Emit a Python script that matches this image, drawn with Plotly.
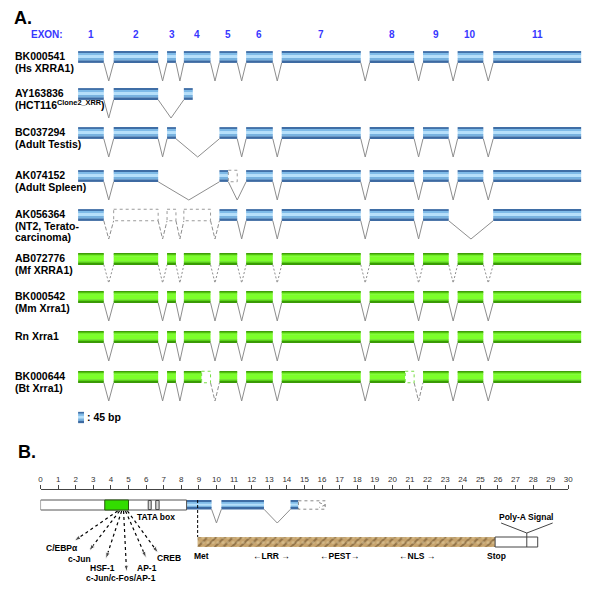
import plotly.graph_objects as go

# ---------------- Panel A data ----------------
EXON_NUMBERS = ['1', '2', '3', '4', '5', '6', '7', '8', '9', '10', '11']
EXON_START = [77, 113, 167, 184, 220, 247, 283, 372, 426, 461, 497]
EXON_END = [103, 158, 176, 211, 238, 274, 363, 417, 452, 487, 586]
ROW_Y = [57, 94, 133, 176, 215, 259, 297, 337, 377]
ROW_LABELS = [
    ["BK000541", "(Hs XRRA1)"],
    ["AY163836", "(HCT116<sup>Clone2_XRR</sup>)"],
    ["BC037294", "(Adult Testis)"],
    ["AK074152", "(Adult Spleen)"],
    ["AK056364", "(NT2, Terato-", "carcinoma)"],
    ["AB072776", "(Mf XRRA1)"],
    ["BK000542", "(Mm Xrra1)"],
    ["Rn Xrra1"],
    ["BK000644", "(Bt Xrra1)"],
]
ROW_COLOR = ['blue', 'blue', 'blue', 'blue', 'blue', 'green', 'green', 'green', 'green']

ALL = list(range(11))
def ex(i, solid=True):
    return (EXON_START[i], EXON_END[i], solid)

ROW_SEGMENTS = [
    [ex(i) for i in ALL],
    [ex(0), ex(1), (184, 193, True)],
    [ex(i) for i in [0, 1, 2, 4, 5, 6, 7, 8, 9, 10]],
    [ex(0), ex(1), (220, 229, True), (229, 238, False)] + [ex(i) for i in range(5, 11)],
    [ex(0), ex(1, False), ex(2, False), ex(3, False)] + [ex(i) for i in range(4, 9)] + [ex(10)],
    [ex(i) for i in ALL],
    [ex(i) for i in ALL],
    [ex(i) for i in ALL],
    [ex(0), ex(1), ex(2), (184, 202, True), (202, 211, False), ex(4), ex(5), ex(6),
     (372, 408, True), (408, 417, False), ex(8), ex(9), ex(10)],
]
STD_GAPS = [(EXON_END[i], EXON_START[i + 1]) for i in range(10)]
ROW_INTRONS = [
    [(a, b, 'solid') for a, b in STD_GAPS],
    [(103, 113, 'solid'), (158, 184, 'solid')],
    [(103, 113, 'solid'), (158, 167, 'solid'), (176, 220, 'solid')] + [(a, b, 'solid') for a, b in STD_GAPS[4:]],
    [(103, 113, 'solid'), (158, 220, 'solid'), (229, 247, 'solid')] + [(a, b, 'solid') for a, b in STD_GAPS[5:]],
    [(103, 113, 'dash'), (158, 167, 'dash'), (176, 184, 'dash'), (211, 220, 'dash'),
     (238, 247, 'solid'), (274, 283, 'solid'), (363, 372, 'solid'), (417, 426, 'solid'), (452, 497, 'solid')],
    [(a, b, 'dot') for a, b in STD_GAPS],
    [(a, b, 'solid') for a, b in STD_GAPS],
    [(a, b, 'solid') for a, b in STD_GAPS],
    [(a, b, ('dash' if a in (211, 417) else 'solid')) for a, b in STD_GAPS],
]
LEGEND_TEXT = ": 45 bp"

# ---------------- Panel B data (scale units) ----------------
SCALE_TICKS = list(range(0, 31))
PROMOTER = (0.0, 8.3)
PROMOTER_CORE = (3.65, 5.0)
SMALL_BOXES = [(6.12, 6.29), (6.55, 6.74)]
B_EXONS = [(8.3, 9.72), (10.28, 12.70), (14.21, 14.66)]
B_INTRONS = [(9.72, 10.28), (12.70, 14.21)]
B_PARTIAL = (14.66, 16.18)
MET, STOP, UTR_END, POLYA = 8.93, 25.84, 28.26, 27.64
ORF_LABELS = ["Met", "\u2190LRR \u2192", "\u2190PEST\u2192", "\u2190NLS \u2192", "Stop"]
ORF_LABEL_X = [9.13, 13.15, 17.0, 21.4, 25.9]
TF_LABELS = ["C/EBP\u03b1", "c-Jun", "HSF-1", "c-Jun/c-Fos/AP-1", "AP-1", "CREB"]
TF_FROM_X = [4.38, 4.49, 4.61, 4.72, 4.83, 4.94]
TF_TO_X = [1.91, 2.75, 3.71, 4.89, 6.01, 6.69]
TF_TO_Y = [541, 551, 559, 572, 558, 553]
TF_LABEL_X = [1.24, 2.19, 3.54, 4.55, 6.07, 7.30]
TF_LABEL_Y = [548, 559, 568, 578, 568, 558]

FONT = "Liberation Sans, Arial, sans-serif"
BLUE_STRIPES = [(0, .16, '#3f6ea6'), (.16, .36, '#7fbbe8'), (.36, .6, '#b6e0fb'), (.6, .82, '#78b2df'), (.82, 1, '#3d6aa2')]
GREEN_STRIPES = [(0, .13, '#3f9e08'), (.13, .3, '#6ff022'), (.3, .72, '#7cff2a'), (.72, .87, '#56d014'), (.87, 1, '#3a9a06')]
INTRON_COLOR = '#8e8e8e'

fig = go.Figure()
fig.add_trace(go.Scatter(x=[0, 600], y=[0, 601], mode='markers', marker=dict(size=1, opacity=0),
                         hoverinfo='skip'))

shapes = []
annotations = []


def txt(x, y, s, size=10, bold=True, color='black', xanchor='left', xref='x'):
    annotations.append(dict(x=x, y=y, xref=xref, yref='y', text=(f"<b>{s}</b>" if bold else s),
                            showarrow=False, xanchor=xanchor, yanchor='middle', borderpad=0,
                            font=dict(family=FONT, size=size, color=color)))


def striped(segs, h, stripes, xaxis='x'):
    for f0, f1, col in stripes:
        fig.add_trace(go.Bar(
            orientation='h', base=[s[0] for s in segs], x=[s[1] - s[0] for s in segs],
            y=[s[2] - h / 2 + (f0 + f1) / 2 * h for s in segs], width=[(f1 - f0) * h + 0.3] * len(segs),
            marker=dict(color=col, line=dict(width=0)), xaxis=xaxis, yaxis='y', hoverinfo='skip'))


H = 11.5
blue_segs, green_segs = [], []
intr = {}
for r, yc in enumerate(ROW_Y):
    col = ROW_COLOR[r]
    for x0, x1, solid in ROW_SEGMENTS[r]:
        if solid:
            (blue_segs if col == 'blue' else green_segs).append((x0, x1, yc))
        else:
            shapes.append(dict(type='rect', xref='x', yref='y', x0=x0, x1=x1, y0=yc - H / 2, y1=yc + H / 2,
                               fillcolor='white',
                               line=dict(color=('#9a9a9a' if col == 'blue' else '#77dd44'), width=1, dash='dot')))
    for x0, x1, d in ROW_INTRONS[r]:
        xs, ys = intr.setdefault(d, ([], []))
        xs += [x0, (x0 + x1) / 2, x1, None]
        ys += [yc + H / 2, yc + 24, yc + H / 2, None]

striped(blue_segs, H, BLUE_STRIPES)
striped(green_segs, H, GREEN_STRIPES)
for d, (xs, ys) in intr.items():
    dash = {'solid': 'solid', 'dash': '4px,2px', 'dot': '2px,2px'}[d]
    fig.add_trace(go.Scatter(x=xs, y=ys, mode='lines', line=dict(color=INTRON_COLOR, width=1, dash=dash),
                             hoverinfo='skip'))

striped([(77, 83, 417.5)], 11, BLUE_STRIPES)
txt(85, 417, LEGEND_TEXT, size=10.5)

txt(11, 18, "A.", size=18)
txt(15, 452, "B.", size=18)
txt(28, 34, "EXON:", size=10, color='#3737ff')
for i, n in enumerate(EXON_NUMBERS):
    txt((EXON_START[i] + EXON_END[i]) / 2, 34, n, size=10, color='#3737ff', xanchor='center')

for r, yc in enumerate(ROW_Y):
    for k, line in enumerate(ROW_LABELS[r]):
        txt(12, yc - 1 + 11.5 * k, line, size=10.5)

# ---------------- Panel B ----------------
BY = 505
shapes.append(dict(type='rect', xref='x2', yref='y', x0=PROMOTER[0], x1=PROMOTER[1], y0=BY - 5, y1=BY + 5,
                   fillcolor='white', line=dict(color='#555', width=1)))
shapes.append(dict(type='rect', xref='x2', yref='y', x0=PROMOTER_CORE[0], x1=PROMOTER_CORE[1], y0=BY - 5, y1=BY + 5,
                   fillcolor='#33dd00', line=dict(color='#2a5a10', width=1)))
for a, b in SMALL_BOXES:
    shapes.append(dict(type='rect', xref='x2', yref='y', x0=a, x1=b, y0=BY - 4.5, y1=BY + 4.5,
                       fillcolor='#d8d8d8', line=dict(color='#444', width=1)))
striped([(a, b, BY) for a, b in B_EXONS], 8.5, BLUE_STRIPES, xaxis='x2')
bx, byy = [], []
for a, b in B_INTRONS:
    bx += [a, (a + b) / 2, b, None]
    byy += [BY + 4.2, 523, BY + 4.2, None]
fig.add_trace(go.Scatter(x=bx, y=byy, xaxis='x2', yaxis='y', mode='lines',
                         line=dict(color=INTRON_COLOR, width=1), hoverinfo='skip'))
shapes.append(dict(type='rect', xref='x2', yref='y', x0=B_PARTIAL[0], x1=B_PARTIAL[1], y0=BY - 4.2, y1=BY + 4.2,
                   fillcolor='white', line=dict(color='#888', width=1, dash='dot')))
shapes.append(dict(type='line', xref='x2', yref='y', x0=B_PARTIAL[1] - 0.35, x1=B_PARTIAL[1], y0=BY - 2.5, y1=BY,
                   line=dict(color='#888', width=1, dash='dot')))
shapes.append(dict(type='line', xref='x2', yref='y', x0=B_PARTIAL[1], x1=B_PARTIAL[1] - 0.35, y0=BY, y1=BY + 2.5,
                   line=dict(color='#888', width=1, dash='dot')))
shapes.append(dict(type='line', xref='x2', yref='y', x0=MET, x1=MET, y0=BY - 5, y1=537,
                   line=dict(color='black', width=1, dash='3px,2px')))
OY = 542
fig.add_trace(go.Bar(orientation='h', base=[MET], x=[STOP - MET], y=[OY], width=[10], xaxis='x2', yaxis='y',
                     marker=dict(color='#c09a62', line=dict(width=0),
                                 pattern=dict(shape='/', fgcolor='#5e4220', bgcolor='#c7a46e', size=6, solidity=0.35)),
                     hoverinfo='skip'))
fig.add_trace(go.Bar(orientation='h', base=[MET], x=[STOP - MET], y=[OY], width=[10], xaxis='x2', yaxis='y',
                     marker=dict(color='rgba(0,0,0,0)', line=dict(width=0),
                                 pattern=dict(shape='.', fgcolor='#e2cfa4', bgcolor='rgba(0,0,0,0)', size=5,
                                              solidity=0.3)),
                     hoverinfo='skip'))
shapes.append(dict(type='rect', xref='x2', yref='y', x0=STOP, x1=UTR_END, y0=OY - 5, y1=OY + 5,
                   fillcolor='white', line=dict(color='#444', width=1)))
shapes.append(dict(type='line', xref='x2', yref='y', x0=POLYA, x1=POLYA, y0=533, y1=OY + 5,
                   line=dict(color='#444', width=1)))
shapes.append(dict(type='line', xref='x2', yref='y', x0=POLYA, x1=26.18, y0=533, y1=523,
                   line=dict(color='#444', width=1)))
shapes.append(dict(type='line', xref='x2', yref='y', x0=POLYA, x1=29.11, y0=533, y1=523,
                   line=dict(color='#444', width=1)))
txt(27.6, 517, "Poly-A Signal", size=8.5, xanchor='center', xref='x2')
for lx, lab in zip(ORF_LABEL_X, ORF_LABELS):
    txt(lx, 556, lab, size=8.5, xanchor='center', xref='x2')
txt(5.45, 517, "TATA box", size=8.5, xref='x2')

for i, lab in enumerate(TF_LABELS):
    fig.add_trace(go.Scatter(x=[TF_FROM_X[i], TF_TO_X[i]], y=[511, TF_TO_Y[i]], xaxis='x2', yaxis='y',
                             mode='lines+markers', line=dict(color='black', width=1.2, dash='dot'),
                             marker=dict(symbol='arrow', size=[0, 7], angleref='previous', color='black'),
                             cliponaxis=False, hoverinfo='skip'))
    txt(TF_LABEL_X[i], TF_LABEL_Y[i], lab, size=8.5, xanchor='center', xref='x2')

fig.update_layout(
    width=600, height=601, margin=dict(l=0, r=0, t=0, b=0),
    paper_bgcolor='white', plot_bgcolor='rgba(0,0,0,0)', showlegend=False, barmode='overlay',
    xaxis=dict(range=[0, 600], visible=False, domain=[0, 1]),
    yaxis=dict(range=[601, 0], visible=False, domain=[0, 1]),
    xaxis2=dict(domain=[39 / 600, 573 / 600], range=[0, 30], anchor='free', position=1 - 489 / 601,
                side='top', ticks='outside', ticklen=4, tickwidth=1, tickcolor='#444', showline=True,
                linecolor='#444', linewidth=1, tickvals=SCALE_TICKS, ticktext=[str(t) for t in SCALE_TICKS],
                tickfont=dict(family=FONT, size=8, color='#333'), showgrid=False, zeroline=False),
    shapes=shapes, annotations=annotations,
)
fig.write_html("out.html", config={'displayModeBar': False},
               post_script="document.body.style.margin='0';document.body.style.padding='0';")
